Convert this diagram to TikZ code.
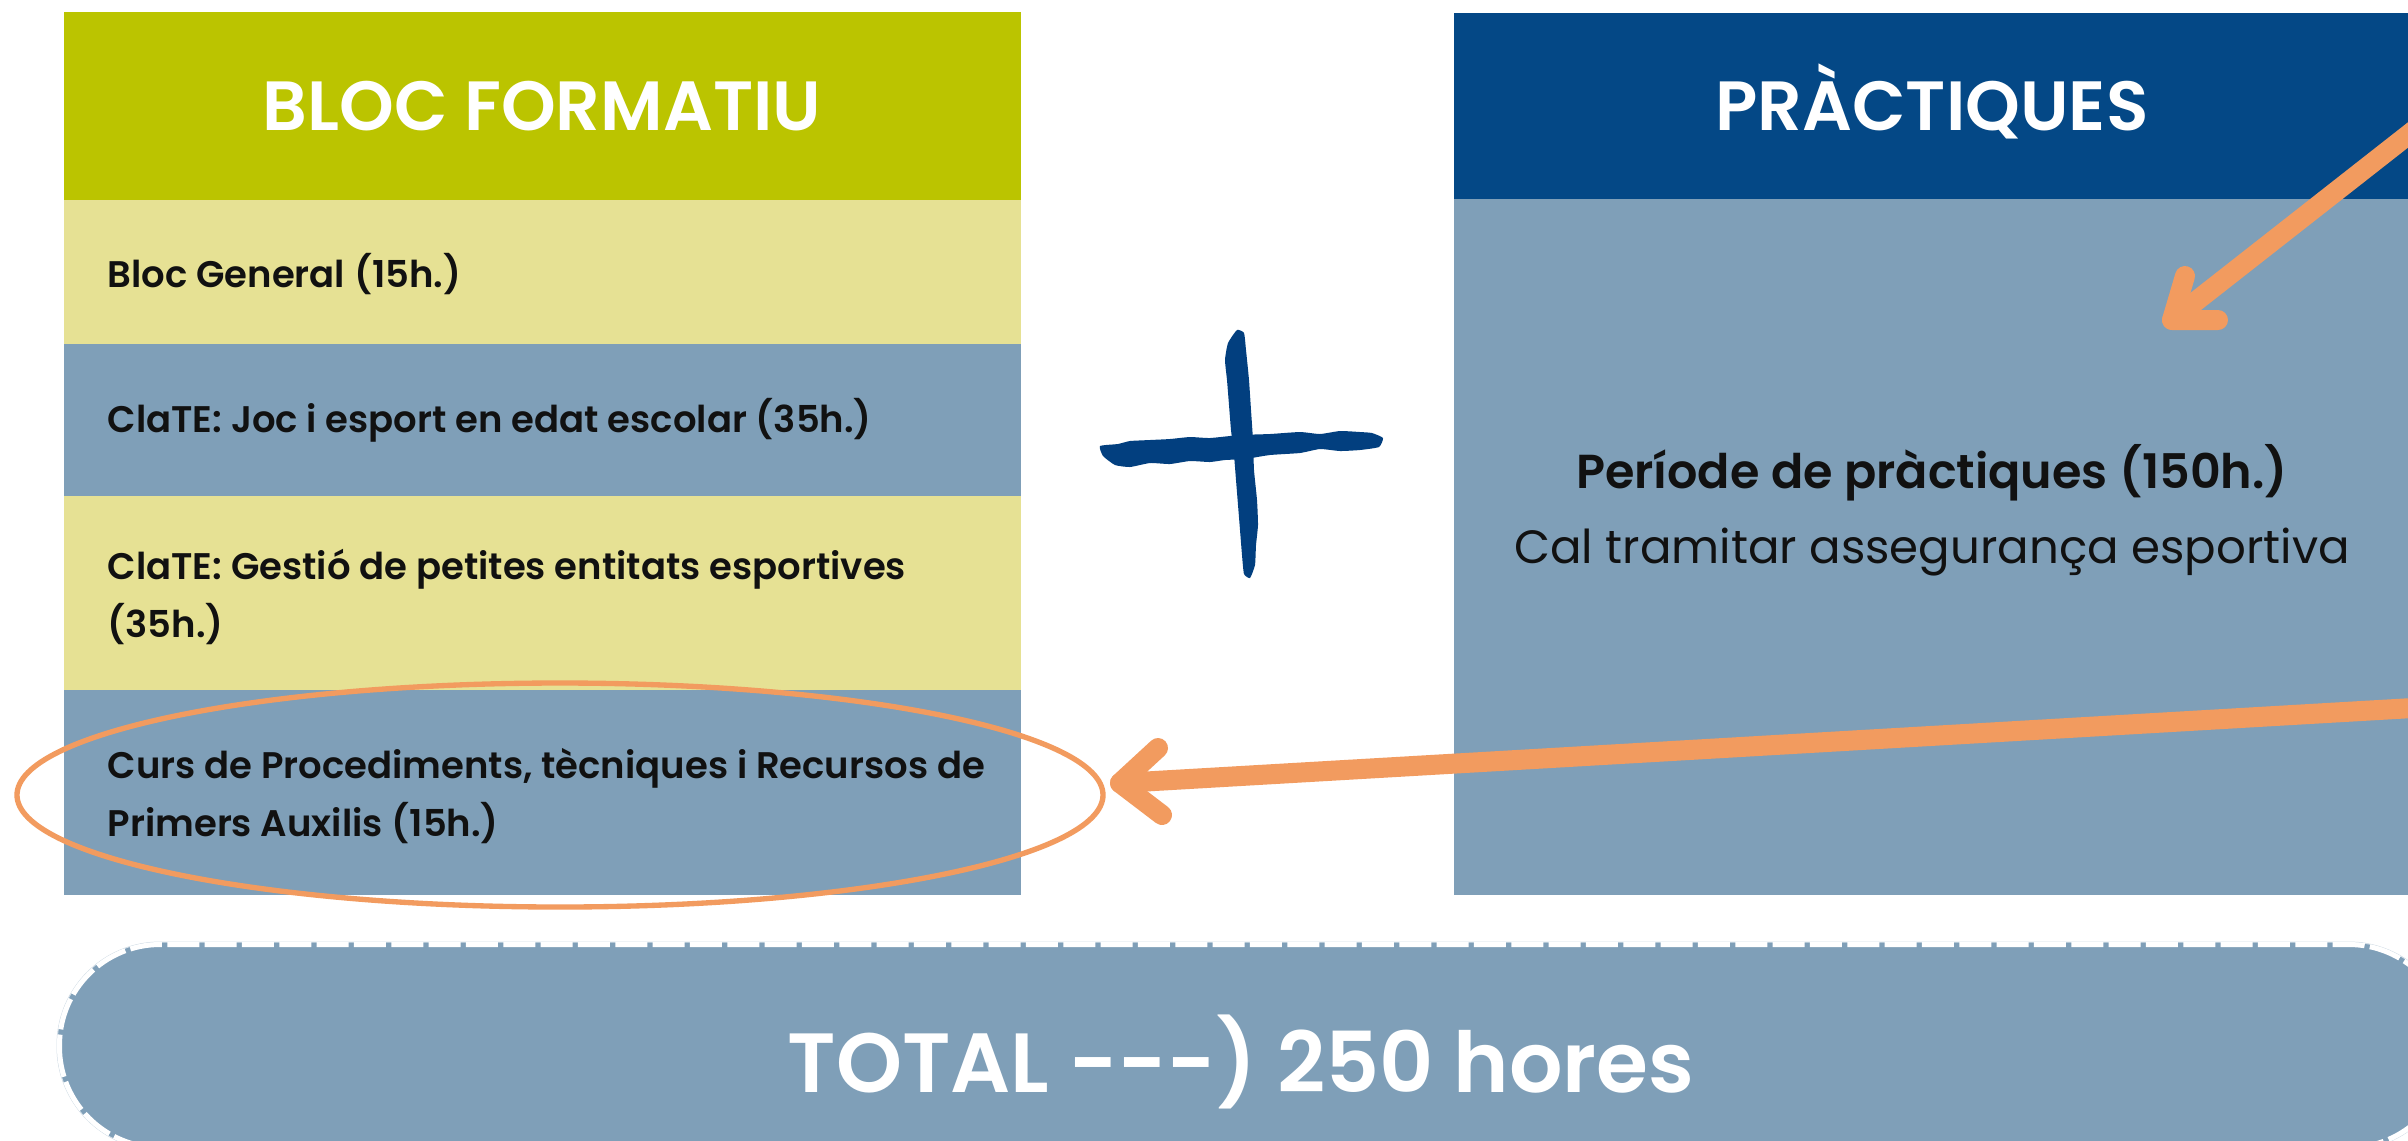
\documentclass[tikz,border=0pt]{standalone}
\usepackage{fontspec}
\setmainfont{Poppins}
\newfontfamily\popsemi{Poppins SemiBold}
\definecolor{cGreen}{HTML}{BBC400}
\definecolor{cYellow}{HTML}{E6E194}
\definecolor{cSlate}{HTML}{7F9FB8}
\definecolor{cNavy}{HTML}{044886}
\definecolor{cPlus}{HTML}{023F7F}
\definecolor{cOrange}{HTML}{F29B5F}
\definecolor{cEdge}{HTML}{D3DEE7}
\definecolor{cInk}{HTML}{111111}
\begin{document}
\begin{tikzpicture}[x=0.3pt,y=-0.3pt,
  bodytxt/.style={anchor=base west, inner sep=0pt, text=cInk, align=left,
    font=\popsemi\fontsize{11.1pt}{17.4pt}\selectfont},
  titletxt/.style={anchor=base, inner sep=0pt, text=white,
    font=\popsemi\fontsize{20.9pt}{24pt}\selectfont},
  arrowline/.style={draw=cOrange, line width=6pt, line cap=round, line join=round}]
\useasboundingbox (0,0) rectangle (2408,1140);
\clip (0,0) rectangle (2408,1140);
\fill[white] (0,0) rectangle (2408,1140);

% left column
\fill[cGreen]  (64,12)  rectangle (1021,200);
\fill[cYellow] (64,200) rectangle (1021,344);
\fill[cSlate]  (64,344) rectangle (1021,496);
\fill[cYellow] (64,496) rectangle (1021,690);
\fill[cSlate]  (64,690) rectangle (1021,895);

% right column
\fill[cNavy]  (1454,13)  rectangle (2420,199);
\fill[cSlate] (1454,199) rectangle (2420,895);

% texts
\node[titletxt] (h1) at (542,130) {BLOC FORMATIU};
\node[titletxt] (h2) at (1932,130) {PRÀCTIQUES};
\node[bodytxt] (r1) at (107,287) {Bloc General (15h.)};
\node[bodytxt] (r2) at (107,432) {ClaTE: Joc i esport en edat escolar (35h.)};
\node[bodytxt] (r3) at (107,637) {ClaTE: Gestió de petites entitats esportives\\(35h.)};
\node[bodytxt] (r4) at (107,836) {Curs de Procediments, tècniques i Recursos de\\Primers Auxilis (15h.)};
\node[anchor=base, inner sep=0pt, text=cInk, font=\popsemi\fontsize{14.3pt}{17pt}\selectfont] (p1) at (1932,488) {Període de pràctiques (150h.)};
\node[anchor=base, inner sep=0pt, text=cInk, font=\fontsize{14pt}{17pt}\selectfont] (p2) at (1932,563) {Cal tramitar assegurança esportiva};

% plus sign (brush strokes)
\fill[cPlus] plot[smooth cycle, tension=0.3] coordinates {(1100,446) (1118,444) (1130,441) (1150,440) (1170,439) (1190,437) (1210,438) (1240,435) (1270,434) (1300,432) (1320,434) (1340,431) (1360,432) (1372,433) (1383,438) (1379,447) (1360,450) (1340,451) (1320,449) (1300,453) (1270,455) (1245,459) (1225,460) (1210,462) (1190,461) (1170,464) (1150,463) (1130,467) (1115,465) (1103,456)};
\fill[cPlus] plot[smooth cycle, tension=0.3] coordinates {(1237,330) (1244,333) (1246,350) (1249,380) (1251,410) (1253,440) (1254,470) (1257,500) (1258,525) (1256,545) (1255,565) (1250,578) (1244,574) (1242,555) (1240,530) (1238,505) (1236,480) (1234,455) (1231,430) (1229,405) (1227,380) (1225,360) (1228,343)};

% total pill
\fill[cSlate, rounded corners=31pt] (57,942) rectangle (2452,1150);
\draw[cEdge, line width=0.3pt, rounded corners=31pt] (57,942) rectangle (2452,1150);
\draw[white, line width=1.5pt, dash pattern=on 9.6pt off 1.6pt, rounded corners=30.2pt] (59.5,944.5) rectangle (2449.5,1147.5);
\node[anchor=base, inner sep=0pt, text=white, font=\popsemi\fontsize{25.2pt}{30pt}\selectfont] (tot) at (1241,1092) {TOTAL -\kern0pt-\kern0pt-) 250 hores};

% ellipse highlight
\draw[cOrange, line width=1.6pt] (560,795) ellipse [x radius=543, y radius=112];

% arrows
\coordinate (a1s) at (2450,102);
\coordinate (a1t) at (2172,320);
\coordinate (a1l) at (2185,276);
\coordinate (a1r) at (2218,320);
\draw[arrowline] (a1s) -- (a1t);
\draw[arrowline] (a1l) -- (a1t) -- (a1r);

\coordinate (a2s) at (2430,707);
\coordinate (a2t) at (1120,783);
\coordinate (a2l) at (1158,748);
\coordinate (a2r) at (1162,815);
\draw[arrowline] (a2s) -- (a2t);
\draw[arrowline] (a2l) -- (a2t) -- (a2r);
\end{tikzpicture}
\end{document}
